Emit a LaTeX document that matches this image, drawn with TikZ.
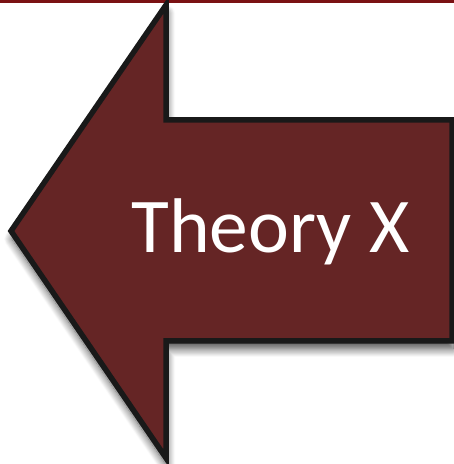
\documentclass[tikz,border=0pt]{standalone}
\usepackage{fontspec}
\setmainfont{Carlito}
\usepackage{tikz}
\usetikzlibrary{shadows.blur}
\definecolor{maroon}{RGB}{101,37,37}
\definecolor{topbar}{RGB}{122,17,19}

\begin{document}
\begin{tikzpicture}[
  x=1pt, y=1pt,
  bigarrow/.style={
    draw=black!90, fill=maroon, line width=5.5pt, line join=miter,
    blur shadow={shadow xshift=1pt, shadow yshift=-8pt,
      shadow blur radius=8pt, shadow blur steps=12, shadow opacity=70}
  },
  label/.style={text=white, font=\fontsize{77.5}{80}\selectfont, inner sep=0pt}
]
  \useasboundingbox (0,0) rectangle (454,464);
  \fill[topbar] (0,460.5) rectangle (454,464);

  % left arrow
  \draw[bigarrow] (166,344) -- (452,344) -- (452,123) -- (166,123)
    -- (166,6) -- (11,233) -- (166,459) -- cycle;

  \node[label, anchor=base] (theoryx) at (270.5,211) {Theory X};
\end{tikzpicture}
\end{document}
